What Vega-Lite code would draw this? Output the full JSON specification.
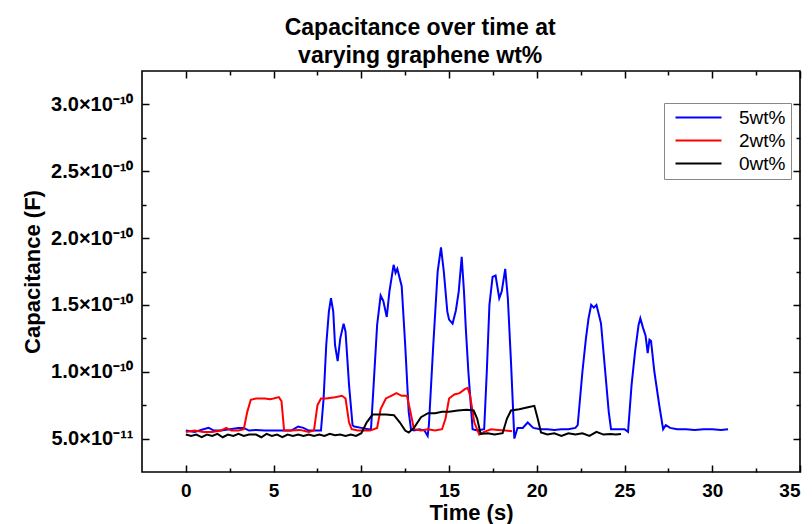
{
  "$schema": "https://vega.github.io/schema/vega-lite/v6.json",
  "autosize": {"type": "none"},
  "padding": {"left": 142, "top": 71, "right": 12, "bottom": 52},
  "width": 658,
  "height": 401,
  "background": "white",
  "title": {
    "text": ["Capacitance over time at", "varying graphene wt%"],
    "font": "Liberation Sans",
    "fontSize": 23,
    "fontWeight": "bold",
    "color": "#000",
    "anchor": "middle",
    "frame": "bounds",
    "lineHeight": 28,
    "offset": 2,
    "dx": 9
  },
  "config": {
    "view": {"stroke": "#000", "strokeWidth": 1.6},
    "axis": {"domain": false, "grid": false, "tickColor": "#000", "tickWidth": 1.5}
  },
  "data": {"values": [
    {"t":0,"c":0.56e-10,"s":"5wt%"},{"t":0.5,"c":0.55e-10,"s":"5wt%"},{"t":1.0,"c":0.57e-10,"s":"5wt%"},{"t":1.3,"c":0.58e-10,"s":"5wt%"},{"t":1.6,"c":0.56e-10,"s":"5wt%"},{"t":2.0,"c":0.56e-10,"s":"5wt%"},{"t":2.5,"c":0.57e-10,"s":"5wt%"},{"t":3.0,"c":0.58e-10,"s":"5wt%"},{"t":3.3,"c":0.58e-10,"s":"5wt%"},{"t":3.6,"c":0.56e-10,"s":"5wt%"},{"t":4.0,"c":0.565e-10,"s":"5wt%"},{"t":4.5,"c":0.56e-10,"s":"5wt%"},{"t":5.0,"c":0.56e-10,"s":"5wt%"},{"t":5.5,"c":0.56e-10,"s":"5wt%"},{"t":6.0,"c":0.56e-10,"s":"5wt%"},{"t":6.4,"c":0.59e-10,"s":"5wt%"},{"t":6.7,"c":0.58e-10,"s":"5wt%"},{"t":7.0,"c":0.56e-10,"s":"5wt%"},{"t":7.4,"c":0.56e-10,"s":"5wt%"},{"t":7.7,"c":0.56e-10,"s":"5wt%"},{"t":7.85,"c":0.8e-10,"s":"5wt%"},{"t":8.0,"c":1.2e-10,"s":"5wt%"},{"t":8.15,"c":1.45e-10,"s":"5wt%"},{"t":8.27,"c":1.55e-10,"s":"5wt%"},{"t":8.4,"c":1.45e-10,"s":"5wt%"},{"t":8.5,"c":1.2e-10,"s":"5wt%"},{"t":8.65,"c":1.08e-10,"s":"5wt%"},{"t":8.8,"c":1.25e-10,"s":"5wt%"},{"t":8.99,"c":1.36e-10,"s":"5wt%"},{"t":9.1,"c":1.3e-10,"s":"5wt%"},{"t":9.3,"c":0.9e-10,"s":"5wt%"},{"t":9.5,"c":0.6e-10,"s":"5wt%"},{"t":9.6,"c":0.59e-10,"s":"5wt%"},{"t":10.0,"c":0.58e-10,"s":"5wt%"},{"t":10.4,"c":0.57e-10,"s":"5wt%"},{"t":10.55,"c":0.57e-10,"s":"5wt%"},{"t":10.7,"c":0.9e-10,"s":"5wt%"},{"t":10.9,"c":1.35e-10,"s":"5wt%"},{"t":11.1,"c":1.57e-10,"s":"5wt%"},{"t":11.25,"c":1.53e-10,"s":"5wt%"},{"t":11.45,"c":1.41e-10,"s":"5wt%"},{"t":11.6,"c":1.6e-10,"s":"5wt%"},{"t":11.84,"c":1.8e-10,"s":"5wt%"},{"t":11.95,"c":1.74e-10,"s":"5wt%"},{"t":12.05,"c":1.77e-10,"s":"5wt%"},{"t":12.3,"c":1.64e-10,"s":"5wt%"},{"t":12.5,"c":1.2e-10,"s":"5wt%"},{"t":12.7,"c":0.7e-10,"s":"5wt%"},{"t":12.83,"c":0.57e-10,"s":"5wt%"},{"t":13.0,"c":0.56e-10,"s":"5wt%"},{"t":13.3,"c":0.57e-10,"s":"5wt%"},{"t":13.6,"c":0.56e-10,"s":"5wt%"},{"t":13.78,"c":0.52e-10,"s":"5wt%"},{"t":13.85,"c":0.6e-10,"s":"5wt%"},{"t":14.1,"c":1.2e-10,"s":"5wt%"},{"t":14.35,"c":1.75e-10,"s":"5wt%"},{"t":14.54,"c":1.93e-10,"s":"5wt%"},{"t":14.7,"c":1.75e-10,"s":"5wt%"},{"t":14.9,"c":1.45e-10,"s":"5wt%"},{"t":15.0,"c":1.39e-10,"s":"5wt%"},{"t":15.2,"c":1.36e-10,"s":"5wt%"},{"t":15.39,"c":1.46e-10,"s":"5wt%"},{"t":15.55,"c":1.6e-10,"s":"5wt%"},{"t":15.72,"c":1.86e-10,"s":"5wt%"},{"t":15.85,"c":1.6e-10,"s":"5wt%"},{"t":15.96,"c":1.31e-10,"s":"5wt%"},{"t":16.1,"c":1.0e-10,"s":"5wt%"},{"t":16.34,"c":0.57e-10,"s":"5wt%"},{"t":16.6,"c":0.56e-10,"s":"5wt%"},{"t":17.0,"c":0.57e-10,"s":"5wt%"},{"t":17.15,"c":1.0e-10,"s":"5wt%"},{"t":17.3,"c":1.5e-10,"s":"5wt%"},{"t":17.48,"c":1.71e-10,"s":"5wt%"},{"t":17.65,"c":1.72e-10,"s":"5wt%"},{"t":17.86,"c":1.55e-10,"s":"5wt%"},{"t":18.0,"c":1.6e-10,"s":"5wt%"},{"t":18.2,"c":1.77e-10,"s":"5wt%"},{"t":18.35,"c":1.55e-10,"s":"5wt%"},{"t":18.53,"c":1.07e-10,"s":"5wt%"},{"t":18.72,"c":0.5e-10,"s":"5wt%"},{"t":18.9,"c":0.58e-10,"s":"5wt%"},{"t":19.2,"c":0.58e-10,"s":"5wt%"},{"t":19.48,"c":0.62e-10,"s":"5wt%"},{"t":19.8,"c":0.58e-10,"s":"5wt%"},{"t":20.2,"c":0.57e-10,"s":"5wt%"},{"t":20.6,"c":0.57e-10,"s":"5wt%"},{"t":21.0,"c":0.565e-10,"s":"5wt%"},{"t":21.4,"c":0.57e-10,"s":"5wt%"},{"t":21.8,"c":0.57e-10,"s":"5wt%"},{"t":22.2,"c":0.58e-10,"s":"5wt%"},{"t":22.33,"c":0.6e-10,"s":"5wt%"},{"t":22.6,"c":1.0e-10,"s":"5wt%"},{"t":22.8,"c":1.25e-10,"s":"5wt%"},{"t":22.95,"c":1.4e-10,"s":"5wt%"},{"t":23.1,"c":1.5e-10,"s":"5wt%"},{"t":23.25,"c":1.48e-10,"s":"5wt%"},{"t":23.4,"c":1.5e-10,"s":"5wt%"},{"t":23.55,"c":1.42e-10,"s":"5wt%"},{"t":23.66,"c":1.36e-10,"s":"5wt%"},{"t":23.9,"c":1.0e-10,"s":"5wt%"},{"t":24.1,"c":0.7e-10,"s":"5wt%"},{"t":24.23,"c":0.57e-10,"s":"5wt%"},{"t":24.6,"c":0.57e-10,"s":"5wt%"},{"t":25.0,"c":0.57e-10,"s":"5wt%"},{"t":25.2,"c":0.55e-10,"s":"5wt%"},{"t":25.4,"c":0.9e-10,"s":"5wt%"},{"t":25.6,"c":1.15e-10,"s":"5wt%"},{"t":25.8,"c":1.35e-10,"s":"5wt%"},{"t":25.9,"c":1.4e-10,"s":"5wt%"},{"t":26.05,"c":1.33e-10,"s":"5wt%"},{"t":26.2,"c":1.27e-10,"s":"5wt%"},{"t":26.32,"c":1.14e-10,"s":"5wt%"},{"t":26.42,"c":1.24e-10,"s":"5wt%"},{"t":26.51,"c":1.23e-10,"s":"5wt%"},{"t":26.7,"c":1.0e-10,"s":"5wt%"},{"t":26.99,"c":0.74e-10,"s":"5wt%"},{"t":27.2,"c":0.57e-10,"s":"5wt%"},{"t":27.35,"c":0.6e-10,"s":"5wt%"},{"t":27.6,"c":0.58e-10,"s":"5wt%"},{"t":28.0,"c":0.57e-10,"s":"5wt%"},{"t":28.5,"c":0.57e-10,"s":"5wt%"},{"t":29.0,"c":0.565e-10,"s":"5wt%"},{"t":29.5,"c":0.57e-10,"s":"5wt%"},{"t":30.0,"c":0.57e-10,"s":"5wt%"},{"t":30.5,"c":0.565e-10,"s":"5wt%"},{"t":30.9,"c":0.57e-10,"s":"5wt%"},
    {"t":0,"c":0.55e-10,"s":"2wt%"},{"t":0.5,"c":0.56e-10,"s":"2wt%"},{"t":1.0,"c":0.55e-10,"s":"2wt%"},{"t":1.5,"c":0.55e-10,"s":"2wt%"},{"t":2.0,"c":0.56e-10,"s":"2wt%"},{"t":2.3,"c":0.58e-10,"s":"2wt%"},{"t":2.6,"c":0.56e-10,"s":"2wt%"},{"t":3.0,"c":0.56e-10,"s":"2wt%"},{"t":3.3,"c":0.57e-10,"s":"2wt%"},{"t":3.5,"c":0.7e-10,"s":"2wt%"},{"t":3.7,"c":0.79e-10,"s":"2wt%"},{"t":4.0,"c":0.8e-10,"s":"2wt%"},{"t":4.5,"c":0.8e-10,"s":"2wt%"},{"t":4.8,"c":0.795e-10,"s":"2wt%"},{"t":5.0,"c":0.8e-10,"s":"2wt%"},{"t":5.3,"c":0.81e-10,"s":"2wt%"},{"t":5.45,"c":0.78e-10,"s":"2wt%"},{"t":5.6,"c":0.56e-10,"s":"2wt%"},{"t":6.0,"c":0.56e-10,"s":"2wt%"},{"t":6.5,"c":0.565e-10,"s":"2wt%"},{"t":7.0,"c":0.55e-10,"s":"2wt%"},{"t":7.3,"c":0.56e-10,"s":"2wt%"},{"t":7.5,"c":0.75e-10,"s":"2wt%"},{"t":7.7,"c":0.8e-10,"s":"2wt%"},{"t":8.0,"c":0.8e-10,"s":"2wt%"},{"t":8.5,"c":0.81e-10,"s":"2wt%"},{"t":8.9,"c":0.82e-10,"s":"2wt%"},{"t":9.1,"c":0.8e-10,"s":"2wt%"},{"t":9.3,"c":0.62e-10,"s":"2wt%"},{"t":9.45,"c":0.57e-10,"s":"2wt%"},{"t":9.8,"c":0.56e-10,"s":"2wt%"},{"t":10.2,"c":0.56e-10,"s":"2wt%"},{"t":10.5,"c":0.56e-10,"s":"2wt%"},{"t":10.9,"c":0.58e-10,"s":"2wt%"},{"t":11.1,"c":0.72e-10,"s":"2wt%"},{"t":11.4,"c":0.8e-10,"s":"2wt%"},{"t":11.7,"c":0.82e-10,"s":"2wt%"},{"t":12.0,"c":0.84e-10,"s":"2wt%"},{"t":12.3,"c":0.82e-10,"s":"2wt%"},{"t":12.6,"c":0.82e-10,"s":"2wt%"},{"t":12.8,"c":0.7e-10,"s":"2wt%"},{"t":13.0,"c":0.57e-10,"s":"2wt%"},{"t":13.4,"c":0.56e-10,"s":"2wt%"},{"t":13.8,"c":0.57e-10,"s":"2wt%"},{"t":14.2,"c":0.56e-10,"s":"2wt%"},{"t":14.6,"c":0.57e-10,"s":"2wt%"},{"t":14.8,"c":0.65e-10,"s":"2wt%"},{"t":15.0,"c":0.8e-10,"s":"2wt%"},{"t":15.3,"c":0.83e-10,"s":"2wt%"},{"t":15.6,"c":0.84e-10,"s":"2wt%"},{"t":15.9,"c":0.87e-10,"s":"2wt%"},{"t":16.06,"c":0.88e-10,"s":"2wt%"},{"t":16.2,"c":0.82e-10,"s":"2wt%"},{"t":16.44,"c":0.62e-10,"s":"2wt%"},{"t":16.72,"c":0.53e-10,"s":"2wt%"},{"t":17.0,"c":0.55e-10,"s":"2wt%"},{"t":17.4,"c":0.57e-10,"s":"2wt%"},{"t":17.8,"c":0.565e-10,"s":"2wt%"},{"t":18.2,"c":0.56e-10,"s":"2wt%"},{"t":18.6,"c":0.555e-10,"s":"2wt%"},
    {"t":0,"c":0.53e-10,"s":"0wt%"},{"t":0.3,"c":0.52e-10,"s":"0wt%"},{"t":0.6,"c":0.53e-10,"s":"0wt%"},{"t":0.9,"c":0.51e-10,"s":"0wt%"},{"t":1.2,"c":0.53e-10,"s":"0wt%"},{"t":1.5,"c":0.52e-10,"s":"0wt%"},{"t":1.8,"c":0.535e-10,"s":"0wt%"},{"t":2.1,"c":0.51e-10,"s":"0wt%"},{"t":2.4,"c":0.53e-10,"s":"0wt%"},{"t":2.7,"c":0.52e-10,"s":"0wt%"},{"t":3.0,"c":0.535e-10,"s":"0wt%"},{"t":3.3,"c":0.52e-10,"s":"0wt%"},{"t":3.6,"c":0.53e-10,"s":"0wt%"},{"t":4.0,"c":0.53e-10,"s":"0wt%"},{"t":4.3,"c":0.51e-10,"s":"0wt%"},{"t":4.6,"c":0.535e-10,"s":"0wt%"},{"t":4.9,"c":0.52e-10,"s":"0wt%"},{"t":5.2,"c":0.53e-10,"s":"0wt%"},{"t":5.5,"c":0.51e-10,"s":"0wt%"},{"t":5.8,"c":0.53e-10,"s":"0wt%"},{"t":6.1,"c":0.52e-10,"s":"0wt%"},{"t":6.4,"c":0.53e-10,"s":"0wt%"},{"t":6.7,"c":0.52e-10,"s":"0wt%"},{"t":7.0,"c":0.53e-10,"s":"0wt%"},{"t":7.3,"c":0.52e-10,"s":"0wt%"},{"t":7.6,"c":0.53e-10,"s":"0wt%"},{"t":7.9,"c":0.52e-10,"s":"0wt%"},{"t":8.2,"c":0.535e-10,"s":"0wt%"},{"t":8.5,"c":0.525e-10,"s":"0wt%"},{"t":8.8,"c":0.53e-10,"s":"0wt%"},{"t":9.1,"c":0.52e-10,"s":"0wt%"},{"t":9.4,"c":0.53e-10,"s":"0wt%"},{"t":9.7,"c":0.52e-10,"s":"0wt%"},{"t":10.0,"c":0.54e-10,"s":"0wt%"},{"t":10.3,"c":0.62e-10,"s":"0wt%"},{"t":10.64,"c":0.68e-10,"s":"0wt%"},{"t":11.0,"c":0.68e-10,"s":"0wt%"},{"t":11.4,"c":0.68e-10,"s":"0wt%"},{"t":11.86,"c":0.675e-10,"s":"0wt%"},{"t":12.2,"c":0.62e-10,"s":"0wt%"},{"t":12.5,"c":0.56e-10,"s":"0wt%"},{"t":12.7,"c":0.545e-10,"s":"0wt%"},{"t":13.0,"c":0.58e-10,"s":"0wt%"},{"t":13.4,"c":0.66e-10,"s":"0wt%"},{"t":13.8,"c":0.69e-10,"s":"0wt%"},{"t":14.2,"c":0.69e-10,"s":"0wt%"},{"t":14.6,"c":0.7e-10,"s":"0wt%"},{"t":15.0,"c":0.7e-10,"s":"0wt%"},{"t":15.5,"c":0.71e-10,"s":"0wt%"},{"t":16.0,"c":0.715e-10,"s":"0wt%"},{"t":16.4,"c":0.71e-10,"s":"0wt%"},{"t":16.6,"c":0.65e-10,"s":"0wt%"},{"t":16.8,"c":0.535e-10,"s":"0wt%"},{"t":17.2,"c":0.54e-10,"s":"0wt%"},{"t":17.6,"c":0.53e-10,"s":"0wt%"},{"t":18.05,"c":0.54e-10,"s":"0wt%"},{"t":18.3,"c":0.65e-10,"s":"0wt%"},{"t":18.53,"c":0.71e-10,"s":"0wt%"},{"t":19.0,"c":0.72e-10,"s":"0wt%"},{"t":19.5,"c":0.735e-10,"s":"0wt%"},{"t":19.86,"c":0.745e-10,"s":"0wt%"},{"t":20.05,"c":0.65e-10,"s":"0wt%"},{"t":20.24,"c":0.545e-10,"s":"0wt%"},{"t":20.6,"c":0.53e-10,"s":"0wt%"},{"t":21.0,"c":0.54e-10,"s":"0wt%"},{"t":21.4,"c":0.52e-10,"s":"0wt%"},{"t":21.8,"c":0.54e-10,"s":"0wt%"},{"t":22.2,"c":0.53e-10,"s":"0wt%"},{"t":22.6,"c":0.54e-10,"s":"0wt%"},{"t":23.0,"c":0.52e-10,"s":"0wt%"},{"t":23.4,"c":0.55e-10,"s":"0wt%"},{"t":23.8,"c":0.53e-10,"s":"0wt%"},{"t":24.2,"c":0.535e-10,"s":"0wt%"},{"t":24.5,"c":0.53e-10,"s":"0wt%"},{"t":24.8,"c":0.535e-10,"s":"0wt%"}
  ]},
  "resolve": {"axis": {"x": "independent", "y": "independent"}},
  "layer": [
    {
      "mark": {"type": "line", "strokeWidth": 2},
      "encoding": {
        "x": {"field": "t", "type": "quantitative",
          "scale": {"domain": [-2.5, 35], "nice": false, "zero": false},
          "axis": {"orient": "bottom", "values": [0, 5, 10, 15, 20, 25, 30, 35], "tickSize": -7, "labelPadding": 16,
            "labelFont": "Liberation Sans", "labelFontSize": 19, "labelFontWeight": "bold", "labelColor": "#000",
            "title": "Time (s)", "titleFont": "Liberation Sans", "titleFontSize": 22, "titleFontWeight": "bold", "titleColor": "#000", "titlePadding": 2}},
        "y": {"field": "c", "type": "quantitative",
          "scale": {"domain": [0.25e-10, 3.25e-10], "nice": false, "zero": false},
          "axis": {"orient": "left", "values": [0.5e-10, 1.0e-10, 1.5e-10, 2.0e-10, 2.5e-10, 3.0e-10], "tickSize": -7, "labelPadding": 16,
            "labelExpr": "datum.value < 0.99e-10 ? format(datum.value*1e11,'.1f') + '×10⁻¹¹' : format(datum.value*1e10,'.1f') + '×10⁻¹⁰'",
            "labelFont": "Liberation Sans", "labelFontSize": 20, "labelFontWeight": "bold", "labelColor": "#000",
            "title": "Capacitance (F)", "titleFont": "Liberation Sans", "titleFontSize": 22, "titleFontWeight": "bold", "titleColor": "#000", "titlePadding": 6}},
        "color": {"field": "s", "type": "nominal",
          "scale": {"domain": ["5wt%", "2wt%", "0wt%"], "range": ["#0000ff", "#ff0000", "#000000"]},
          "legend": {"title": null, "orient": "none", "legendX": 522, "legendY": 32,
            "symbolType": "M-4.6,0H4.6", "symbolSize": 100, "symbolStrokeWidth": 2, "symbolOffset": 20,
            "labelFont": "Liberation Sans", "labelFontSize": 19, "labelColor": "#000", "labelOffset": 31,
            "strokeColor": "#888", "fillColor": "white", "padding": 5, "rowPadding": 3}}
      }
    },
    {
      "mark": {"type": "line", "strokeOpacity": 0},
      "encoding": {
        "x": {"field": "t", "type": "quantitative", "axis": {"orient": "top", "values": [0, 5, 10, 15, 20, 25, 30, 35], "tickSize": -7, "labels": false, "title": null}},
        "y": {"field": "c", "type": "quantitative", "axis": {"orient": "right", "values": [0.5e-10, 1.0e-10, 1.5e-10, 2.0e-10, 2.5e-10, 3.0e-10], "tickSize": -7, "labels": false, "title": null}},
        "detail": {"field": "s"}
      }
    },
    {
      "mark": {"type": "line", "strokeOpacity": 0},
      "encoding": {
        "x": {"field": "t", "type": "quantitative", "axis": {"orient": "bottom", "values": [2.5, 7.5, 12.5, 17.5, 22.5, 27.5, 32.5], "tickSize": -4, "labels": false, "title": null}},
        "y": {"field": "c", "type": "quantitative", "axis": {"orient": "left", "values": [0.75e-10, 1.25e-10, 1.75e-10, 2.25e-10, 2.75e-10], "tickSize": -4, "labels": false, "title": null}},
        "detail": {"field": "s"}
      }
    },
    {
      "mark": {"type": "line", "strokeOpacity": 0},
      "encoding": {
        "x": {"field": "t", "type": "quantitative", "axis": {"orient": "top", "values": [2.5, 7.5, 12.5, 17.5, 22.5, 27.5, 32.5], "tickSize": -4, "labels": false, "title": null}},
        "y": {"field": "c", "type": "quantitative", "axis": {"orient": "right", "values": [0.75e-10, 1.25e-10, 1.75e-10, 2.25e-10, 2.75e-10], "tickSize": -4, "labels": false, "title": null}},
        "detail": {"field": "s"}
      }
    }
  ]
}
